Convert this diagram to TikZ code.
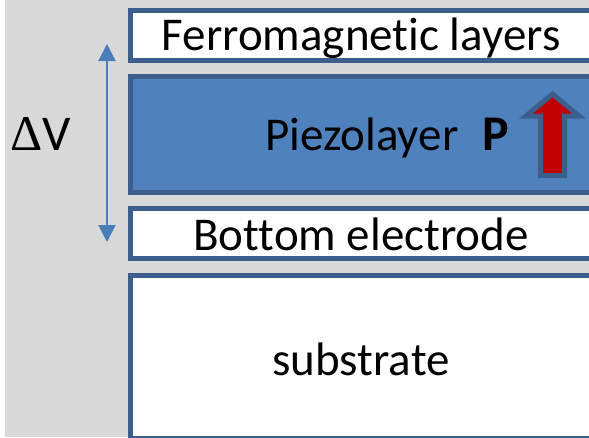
\documentclass[tikz,border=0pt]{standalone}
\usepackage{fontspec}
\setmainfont{Carlito}[Ligatures=NoCommon]
\newfontfamily\greekfont{Liberation Serif}
\usetikzlibrary{arrows.meta}
\definecolor{bggray}{HTML}{D9D9D9}
\definecolor{edgeblue}{HTML}{3B5E8C}
\definecolor{piezoblue}{HTML}{4F81BD}
\definecolor{arrowblue}{HTML}{4A7EBB}
\definecolor{polred}{HTML}{C00000}

\begin{document}
\begin{tikzpicture}[x=1pt, y=-1pt,
    layer/.style={draw=edgeblue, line width=5pt, fill=white, inner sep=0pt,
                  minimum width=461pt},
    lbl/.style={anchor=base, inner sep=0pt, font=\fontsize{47}{55}\selectfont},
    varr/.style={{Triangle[length=17pt, width=17pt]}-{Triangle[length=17pt, width=17pt]},
                 draw=arrowblue, line width=2pt},
  ]
  \useasboundingbox (0,0) rectangle (589,437);
  \fill[bggray] (5,0) rectangle (589,437);
  \clip (0,0) rectangle (589,437);

  % the stack of layers
  \node[layer, minimum height=50pt] (ferro) at (361,35) {};
  \node[layer, fill=piezoblue, minimum height=116pt] (piezo) at (361,134.5) {};
  \node[layer, minimum height=50pt] (bottom) at (361,233.5) {};
  \node[layer, minimum height=163pt] (subst) at (361,357) {};

  % layer names
  \node[lbl] (ferrotxt) at (361,50) {Ferromagnetic layers};
  \node[lbl, anchor=base west] (piezotxt) at (265,150) {Piezolayer};
  \node[lbl, anchor=base west, font=\fontsize{50}{58}\selectfont\bfseries] (ptxt) at (482,150) {P};
  \node[lbl] (bottomtxt) at (361,250) {Bottom electrode};
  \node[lbl] (substtxt) at (361,375) {substrate};

  % polarisation arrow
  \draw[edgeblue, line width=5pt, fill=polred, miter limit=10]
    (552.5,94) -- (579,116) -- (564.5,116) -- (564.5,175.5) -- (540.5,175.5)
    -- (540.5,116) -- (526,116) -- cycle;

  % applied voltage
  \coordinate (vtop) at (107,44);
  \coordinate (vbot) at (107,242);
  \draw[varr] (vtop) -- (vbot);
  \node[anchor=base, inner sep=0pt, font=\fontsize{50}{58}\selectfont] (dv) at (41,150) {{\greekfont Δ}V};
\end{tikzpicture}
\end{document}
